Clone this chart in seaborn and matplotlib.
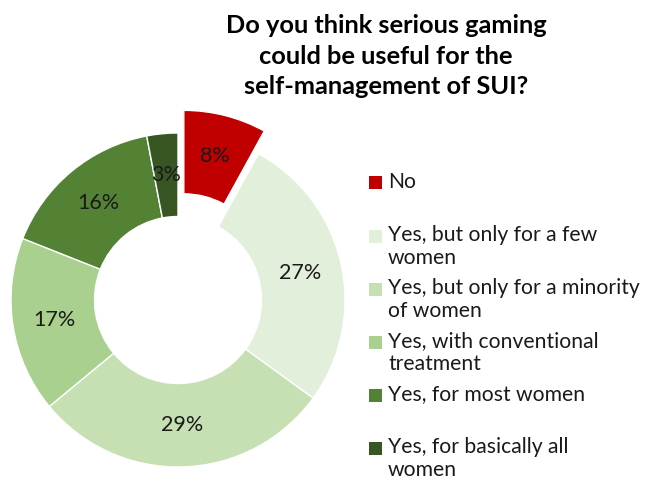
import matplotlib
matplotlib.use("Agg")
import matplotlib.pyplot as plt
import seaborn as sns
from matplotlib.patches import Rectangle

categories = ["No", "Yes, but only for a few\nwomen", "Yes, but only for a minority\nof women",
              "Yes, with conventional\ntreatment", "Yes, for most women", "Yes, for basically all\nwomen"]
shares = [8, 27, 29, 17, 16, 3]
pct_labels = ["8%", "27%", "29%", "17%", "16%", "3%"]
colors = ["#C00000", "#E2EFDA", "#C6E0B4", "#A9D08E", "#548235", "#375623"]
explode = [0.14, 0, 0, 0, 0, 0]

sns.set_theme(style="white")
plt.rcParams["font.family"] = ["Lato", "DejaVu Sans"]

W, H = 646, 482
fig = plt.figure(figsize=(W / 100, H / 100), dpi=100)

# donut centred at (178, 300) px, outer radius 167 px
cx, cy, R, S = 178, 300, 167, 360
ax = fig.add_axes([(cx - S / 2) / W, (H - cy - S / 2) / H, S / W, S / H])
wedges, texts = ax.pie(shares, colors=colors, startangle=90, counterclock=False, explode=explode,
                       labels=pct_labels, labeldistance=0.75,
                       wedgeprops=dict(width=0.5, edgecolor="white", linewidth=1),
                       textprops=dict(fontsize=15.5, color="#1a1a1a", ha="center", va="center"))
lim = S / 2 / R
ax.set_xlim(-lim, lim)
ax.set_ylim(-lim, lim)
ax.set_aspect("equal")
ax.axis("off")
for w in wedges:
    w.set_clip_on(False)

fig.text(386 / W, 1 - 56 / H, "Do you think serious gaming\ncould be useful for the\nself-management of SUI?",
         ha="center", va="center", fontsize=18.3, fontweight="bold", linespacing=1.4, color="black")

# legend drawn by hand to keep Excel-like spacing
for i, (lab, col) in enumerate(zip(categories, colors)):
    y = 183 + i * 53
    fig.patches.append(Rectangle((369 / W, 1 - (y + 6.5) / H), 13 / W, 13 / H,
                                 transform=fig.transFigure, facecolor=col, edgecolor="none"))
    fig.text(388 / W, 1 - (y - 11) / H, lab, ha="left", va="top", fontsize=15.2,
             linespacing=1.2, color="#1a1a1a")

fig.savefig("out.png", dpi=100)
